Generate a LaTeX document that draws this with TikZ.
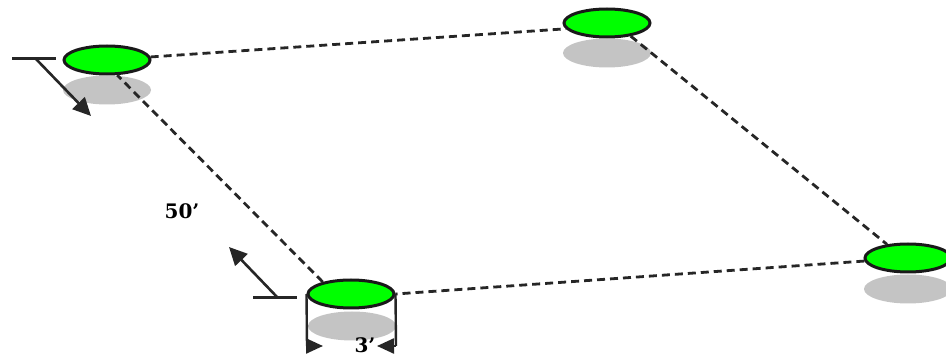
\documentclass[tikz,border=0pt]{standalone}
\usepackage{xcolor}
\usepackage{fontspec}
\setmainfont{DejaVu Serif}
\usetikzlibrary{shapes.geometric, arrows.meta}
\definecolor{padgreen}{RGB}{0,255,0}
\definecolor{padshadow}{RGB}{196,196,196}
\tikzset{
	padtop/.style={ellipse, draw=black!90, line width=3pt, fill=padgreen, minimum width=86pt, minimum height=28pt, inner sep=0pt},
	padshade/.style={ellipse, fill=padshadow, minimum width=88pt, minimum height=29pt, inner sep=0pt},
	runline/.style={dash pattern=on 8pt off 5pt, line width=2.8pt, black!85},
	tickline/.style={line width=3pt, black!85},
	walkarrow/.style={line width=2.6pt, black!85, -{Triangle[length=18pt, width=17pt]}},
	dimline/.style={line width=2.4pt, black!85},
	dimarrow/.style={line width=2.4pt, black!85, -{Triangle[length=17pt, width=15pt]}},
	lbl/.style={font=\fontsize{20}{22}\selectfont\bfseries, inner sep=0pt}
}
\begin{document}
\begin{tikzpicture}[x=1pt, y=-1pt]
	\clip (0,0) rectangle (946,358);
	% shadows first
	\node [padshade] (shadea) at (107,90) {};
	\node [padshade] (shadeb) at (607,53) {};
	\node [padshade] (shadec) at (352,326) {};
	\node [padshade] (shaded) at (908,289) {};
	\node [padtop] (pada) at (107,60) {};
	\node [padtop] (padb) at (607,23) {};
	\node [padtop] (padc) at (351,294) {};
	\node [padtop] (padd) at (908,258) {};
	% the course
	\draw [runline] (pada.4) -- (padb.188);
	\draw [runline] (padb.-29) -- (padd.147);
	\draw [runline] (padd.184) -- (padc.0);
	\draw [runline] (padc.157) -- (pada.-56);
	% start mark, top left
	\coordinate (ticka) at (12,59);
	\coordinate (tickb) at (56,59);
	\coordinate (starta) at (36,59);
	\coordinate (enda) at (91,116);
	\draw [tickline] (ticka) -- (tickb);
	\draw [walkarrow] (starta) -- (enda);
	% start mark, bottom
	\coordinate (tickc) at (253,298);
	\coordinate (tickd) at (297,298);
	\coordinate (startc) at (278,298);
	\coordinate (endc) at (229,247);
	\draw [tickline] (tickc) -- (tickd);
	\draw [walkarrow] (startc) -- (endc);
	% width of a pad
	\coordinate (diml) at (307,346);
	\coordinate (dimr) at (396,346);
	\coordinate (tipl) at (323,346);
	\coordinate (tipr) at (377,346);
	\draw [dimline] (padc.180) -- (diml);
	\draw [dimline] (padc.0) -- (dimr);
	\draw [dimarrow] (diml) -- (tipl);
	\draw [dimarrow] (dimr) -- (tipr);
	\node [lbl] (widthlabel) at (365,345) {3’};
	\node [lbl] (lengthlabel) at (182,211) {50’};
\end{tikzpicture}
\end{document}
